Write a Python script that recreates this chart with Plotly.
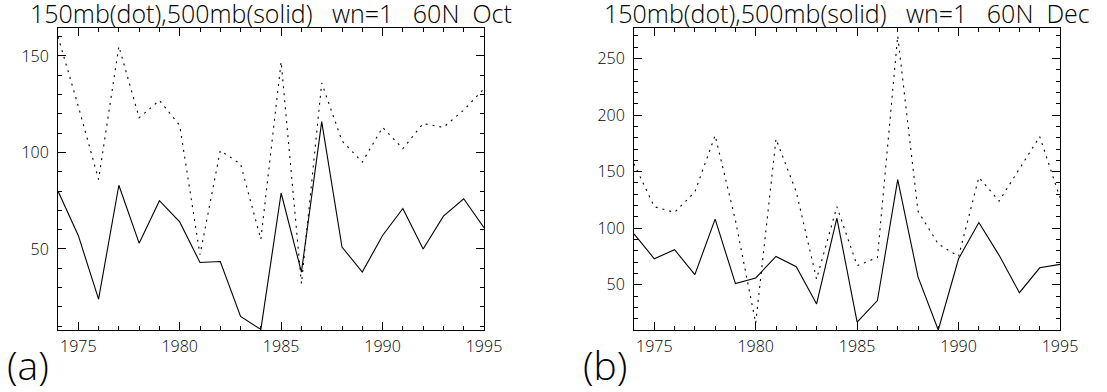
import plotly.graph_objects as go

# Wave-number 1 amplitude at 60N, 1974-1995
years = list(range(1974, 1996))

oct_150mb = [160, 124, 86, 155, 118, 127, 114, 47, 101, 94, 55, 147, 32, 136,
             106, 95, 113, 102, 115, 113, 122, 133]
oct_500mb = [80, 57, 24, 83, 53, 75, 64, 43, 43.5, 15, 8.3, 79, 38, 116,
             51, 38, 57, 71, 50, 67, 76, 61]

dec_150mb = [157, 119, 114, 132, 182, 107, 16, 179, 132, 55, 119, 67, 74, 270,
             115, 86, 75, 145, 124, 152, 181, 127]
dec_500mb = [95, 73, 81, 59, 108, 51, 56, 75, 66, 33, 109, 17, 36, 143,
             57, 10, 73, 105, 76, 43, 65, 68]

GAP = "\u00a0\u00a0\u00a0"
titles = ["150mb(dot),500mb(solid)" + GAP + "wn=1" + GAP + "60N\u00a0\u00a0Oct",
          "150mb(dot),500mb(solid)" + GAP + "wn=1" + GAP + "60N\u00a0\u00a0Dec"]
panel_tags = ["(a)", "(b)"]

W, H = 1107, 392
FONT = "Open Sans"

# panel boxes in pixels: (left, right), shared top/bottom
boxes = [(58, 484), (634, 1060)]
top_px, bot_px = 28, 330
yranges = [[8, 164.5], [10, 277]]

fig = go.Figure()

series = [(oct_150mb, oct_500mb), (dec_150mb, dec_500mb)]
for i, (dotted, solid) in enumerate(series):
    sfx = "" if i == 0 else str(i + 1)
    fig.add_trace(go.Scatter(x=years, y=dotted, mode="lines",
                             line=dict(color="black", width=1.1, dash="2px,5px"),
                             xaxis="x" + sfx, yaxis="y" + sfx, showlegend=False,
                             cliponaxis=True))
    fig.add_trace(go.Scatter(x=years, y=solid, mode="lines",
                             line=dict(color="black", width=1.1),
                             xaxis="x" + sfx, yaxis="y" + sfx, showlegend=False,
                             cliponaxis=True))

common = dict(showline=True, linecolor="black", linewidth=1, mirror="ticks",
              ticks="inside", ticklen=8, tickwidth=1, tickcolor="black",
              showgrid=False, zeroline=False, automargin=False,
              tickfont=dict(family=FONT, size=16, color="black", weight=300))

layout = dict(template="none", width=W, height=H,
              margin=dict(l=0, r=0, t=0, b=0, pad=0), autosize=False,
              paper_bgcolor="white", plot_bgcolor="white", showlegend=False,
              font=dict(family=FONT, color="black"))

annotations = []
for i, (l, r) in enumerate(boxes):
    sfx = "" if i == 0 else str(i + 1)
    xd = [l / W, r / W]
    yd = [1 - bot_px / H, 1 - top_px / H]
    layout["xaxis" + sfx] = dict(common, domain=xd, range=[1974, 1995],
                                 tick0=1975, dtick=5,
                                 minor=dict(ticks="inside", ticklen=4, dtick=1,
                                            tickcolor="black", showgrid=False),
                                 anchor="y" + sfx, ticklabelstandoff=2)
    layout["yaxis" + sfx] = dict(common, domain=yd, range=yranges[i],
                                 tick0=0, dtick=50,
                                 minor=dict(ticks="inside", ticklen=4, dtick=10,
                                            tickcolor="black", showgrid=False),
                                 anchor="x" + sfx, ticklabelstandoff=5)
    annotations.append(dict(text=titles[i], xref="paper", yref="paper",
                            x=(l + r) / 2 / W, y=1 + 5 / H,
                            xanchor="center", yanchor="top", showarrow=False,
                            borderpad=0,
                            font=dict(family=FONT, size=25, color="black",
                                      weight=300)))
    annotations.append(dict(text=panel_tags[i], xref="paper", yref="paper",
                            x=(l - 52) / W, y=0.0,
                            xanchor="left", yanchor="bottom", showarrow=False,
                            borderpad=0,
                            font=dict(family=FONT, size=39, color="black",
                                      weight=300)))

layout["annotations"] = annotations
fig.update_layout(**layout)

fig.write_html("out.html")
